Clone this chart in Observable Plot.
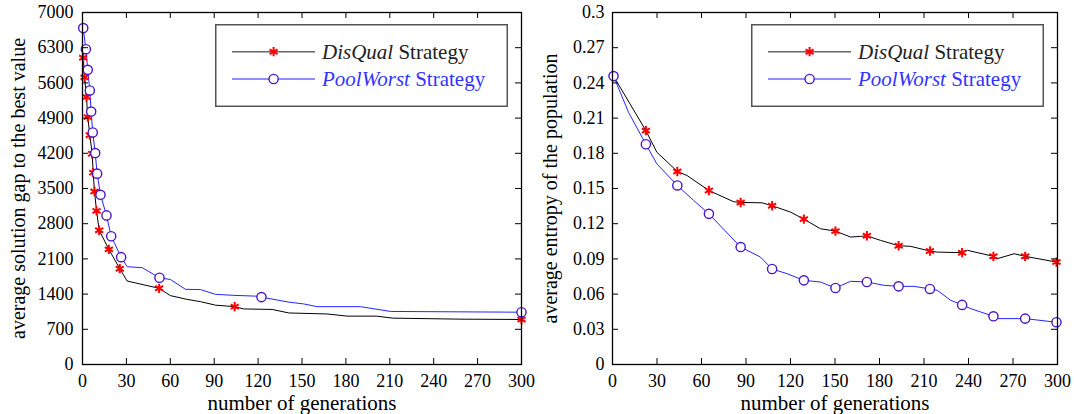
<!DOCTYPE html>
<html>
<head>
<meta charset="utf-8">
<script src="https://cdn.jsdelivr.net/npm/d3@7"></script>
<script src="https://cdn.jsdelivr.net/npm/@observablehq/plot@0.6"></script>
<style>
  body { margin: 0; background: #fff; }
  #wrap { display: flex; width: 1074px; height: 414px; }
  .panel { position: relative; width: 537px; height: 414px; }
  .panel svg { display: block; }
  .panel svg text { font-family: "Liberation Serif", "Times New Roman", Times, "DejaVu Serif", serif; }
</style>
</head>
<body>
<div id="wrap"></div>
<script>
// ---------- tick labels ----------
const generationTicks = [0, 30, 60, 90, 120, 150, 180, 210, 240, 270, 300];
const gapTicks = [0, 700, 1400, 2100, 2800, 3500, 4200, 4900, 5600, 6300, 7000];
const entropyTicks = [0, 0.03, 0.06, 0.09, 0.12, 0.15, 0.18, 0.21, 0.24, 0.27, 0.3];

// ---------- labels ----------
const xLabel = "number of generations";
const gapLabel = "average solution gap to the best value";
const entropyLabel = "average entropy of the population";
const strategyNames = ["DisQual", "PoolWorst"];
const strategySuffix = " Strategy";

// ---------- left panel: solution gap ----------
const gapDisQualGen = [0.5, 1.4, 2.7, 3.6, 5.0, 6.6, 7.3, 8.2, 9.6, 11.4, 18, 25.5, 30.5, 52.4, 60, 71.5, 80.6, 90.9, 104, 110, 129.6, 141, 167, 181, 201, 212, 258, 300];
const gapDisQualVal = [6100, 5710, 5320, 4920, 4560, 4190, 3815, 3440, 3055, 2670, 2290, 1905, 1660, 1515, 1370, 1295, 1250, 1180, 1150, 1105, 1095, 1025, 1005, 962, 962, 922, 902, 895];
const gapDisQualMarkGen = [0.5, 1.4, 2.7, 3.6, 5.0, 6.6, 7.3, 8.2, 9.6, 11.4, 18, 25.5, 52.4, 104, 300];
const gapDisQualMarkVal = [6100, 5710, 5320, 4920, 4560, 4190, 3815, 3440, 3055, 2670, 2290, 1905, 1515, 1150, 895];

const gapPoolGen = [0.5, 2.3, 3.6, 5.0, 5.9, 7.0, 8.7, 10.0, 12.3, 16.4, 19.6, 26.4, 30.5, 40.8, 52.6, 60.1, 70.4, 80.6, 90.9, 103.4, 118, 122.3, 141, 151, 160.4, 190, 210.5, 300];
const gapPoolVal = [6690, 6270, 5860, 5450, 5030, 4615, 4205, 3795, 3375, 2965, 2550, 2135, 1945, 1925, 1725, 1690, 1495, 1490, 1395, 1375, 1360, 1340, 1240, 1205, 1150, 1150, 1055, 1040];
const gapPoolMarkGen = [0.5, 2.3, 3.6, 5.0, 5.9, 7.0, 8.7, 10.0, 12.3, 16.4, 19.6, 26.4, 52.6, 122.3, 300];
const gapPoolMarkVal = [6690, 6270, 5860, 5450, 5030, 4615, 4205, 3795, 3375, 2965, 2550, 2135, 1725, 1340, 1040];

// ---------- right panel: entropy ----------
const entDisQualGen = [0.7, 22.5, 29.9, 43.7, 50.2, 65, 81.7, 86.4, 100.8, 107.6, 120, 129, 140.2, 150.3, 160.5, 167.2, 171.5, 180.7, 192.9, 201, 214, 219, 235.7, 239.3, 256.8, 259.4, 270.8, 278.2, 299.3];
const entDisQualVal = [0.2458, 0.1993, 0.1809, 0.1645, 0.1611, 0.1483, 0.1387, 0.1381, 0.1378, 0.1353, 0.1299, 0.1239, 0.1157, 0.1137, 0.1086, 0.1092, 0.1097, 0.1058, 0.1012, 0.1007, 0.0967, 0.0958, 0.0953, 0.0973, 0.0922, 0.0902, 0.0944, 0.0922, 0.0873];
const entDisQualMarkGen = [0.7, 22.5, 43.7, 65, 86.4, 107.6, 129, 150.3, 171.5, 192.9, 214, 235.7, 256.8, 278.2, 299.3];
const entDisQualMarkVal = [0.2458, 0.1993, 0.1645, 0.1483, 0.1381, 0.1353, 0.1239, 0.1137, 0.1097, 0.1012, 0.0967, 0.0953, 0.0922, 0.0922, 0.0873];

const entPoolGen = [0.7, 10.8, 22.5, 29.9, 43.7, 54.7, 65, 86.4, 99.7, 107.6, 117.7, 129, 140.2, 150.3, 160.5, 171.5, 183, 192.9, 203.2, 214, 219, 228, 235.7, 241.5, 256.8, 259.4, 278.2, 299.3];
const entPoolVal = [0.2458, 0.2149, 0.1877, 0.1710, 0.1526, 0.1398, 0.1284, 0.1001, 0.0916, 0.0814, 0.0774, 0.0717, 0.0703, 0.0652, 0.0709, 0.0703, 0.0675, 0.0666, 0.0666, 0.0644, 0.0632, 0.0547, 0.0508, 0.0476, 0.0411, 0.0391, 0.0391, 0.0360];
const entPoolMarkGen = [0.7, 22.5, 43.7, 65, 86.4, 107.6, 129, 150.3, 171.5, 192.9, 214, 235.7, 256.8, 278.2, 299.3];
const entPoolMarkVal = [0.2458, 0.1877, 0.1526, 0.1284, 0.1001, 0.0814, 0.0717, 0.0652, 0.0703, 0.0666, 0.0644, 0.0508, 0.0411, 0.0391, 0.0360];

// ---------- styling ----------
const FONT = "\"Liberation Serif\", \"Times New Roman\", Times, \"DejaVu Serif\", serif";
const BLACK_LINE = "#000";
const BLUE_LINE = "#2424ff";
const STAR = "#ff0000";
const CIRCLE = "#4a14c8";

const zipRec = (g, v) => g.map((d, i) => ({g: d, v: v[i]}));

function panel(o) {
  const W = 537, H = 414, mt = 12, mb = 50;
  const innerW = W - o.ml - o.mr, innerH = H - mt - mb;
  return Plot.plot({
    width: W, height: H,
    marginLeft: o.ml, marginRight: o.mr, marginTop: mt, marginBottom: mb,
    style: {fontFamily: FONT, fontSize: "18px", color: "#000", background: "#fff", overflow: "visible"},
    x: {domain: [0, 300]},
    y: {domain: o.yDomain},
    marks: [
      Plot.line(o.dis, {x: "g", y: "v", stroke: BLACK_LINE, strokeWidth: 1}),
      Plot.line(o.pool, {x: "g", y: "v", stroke: BLUE_LINE, strokeWidth: 1}),
      Plot.dot(o.disM, {x: "g", y: "v", symbol: "asterisk", r: 4.4, stroke: STAR, strokeWidth: 2}),
      Plot.dot(o.poolM, {x: "g", y: "v", r: 4.6, stroke: CIRCLE, fill: "#fff", strokeWidth: 1.4}),
      Plot.tickX(generationTicks, {x: d => d, insetTop: innerH - 6, stroke: "#000"}),
      Plot.tickX(generationTicks, {x: d => d, insetBottom: innerH - 6, stroke: "#000"}),
      Plot.tickY(o.yTicks, {y: d => d, insetRight: innerW - 6, stroke: "#000"}),
      Plot.tickY(o.yTicks, {y: d => d, insetLeft: innerW - 6, stroke: "#000"}),
      Plot.axisX(generationTicks, {tickSize: 0, tickPadding: 10, label: null, tickFormat: d => String(d), fontSize: 18}),
      Plot.axisY(o.yTicks, {tickSize: 0, tickPadding: o.yPad, label: null, tickFormat: d => String(d), fontSize: 18}),
      Plot.frame({stroke: "#000", strokeWidth: 1.3}),
      Plot.text([xLabel], {frameAnchor: "bottom", dy: 39, text: d => d, fontSize: 21, lineAnchor: "middle", textAnchor: "middle"}),
      Plot.text([o.yLabel], {frameAnchor: "left", textAnchor: "middle", lineAnchor: "middle", rotate: -90, dx: o.yLabelDx, text: d => d, fontSize: 20})
    ]
  });
}

function legend(left) {
  const w = 293, h = 83;
  const svg = d3.create("svg")
    .attr("width", w).attr("height", h)
    .style("position", "absolute").style("left", left + "px").style("top", "24px")
    .style("font-size", "20px");
  svg.append("rect").attr("x", 0.75).attr("y", 0.75).attr("width", w - 1.5).attr("height", h - 1.5)
    .attr("fill", "#fff").attr("stroke", "#555").attr("stroke-width", 1.5);
  const rows = [
    {y: 27.7, line: "#666", text: "#222", name: strategyNames[0], mark: "star"},
    {y: 55, line: "#6a6aff", text: "#3333ff", name: strategyNames[1], mark: "circle"}
  ];
  rows.forEach(r => {
    svg.append("line").attr("x1", 17).attr("x2", 100).attr("y1", r.y).attr("y2", r.y)
      .attr("stroke", r.line).attr("stroke-width", 1.4);
    if (r.mark === "star") {
      svg.append("path").attr("d", d3.symbol(d3.symbolAsterisk, 4.4 * 4.4 * Math.PI)())
        .attr("transform", `translate(58.6,${r.y})`).attr("stroke", STAR).attr("stroke-width", 2).attr("fill", "none");
    } else {
      svg.append("circle").attr("cx", 58.6).attr("cy", r.y).attr("r", 4.6)
        .attr("fill", "#fff").attr("stroke", CIRCLE).attr("stroke-width", 1.4);
    }
    const t = svg.append("text").attr("x", 107).attr("y", r.y).attr("dy", "0.35em").attr("fill", r.text)
      .attr("font-size", 21);
    t.append("tspan").attr("font-style", "italic").text(r.name);
    t.append("tspan").text(strategySuffix);
  });
  return svg.node();
}

const wrap = document.getElementById("wrap");

const p1 = document.createElement("div"); p1.className = "panel";
p1.appendChild(panel({
  ml: 82, mr: 16, yDomain: [0, 7000], yTicks: gapTicks, yPad: 9,
  yLabel: gapLabel, yLabelDx: -64,
  dis: zipRec(gapDisQualGen, gapDisQualVal), disM: zipRec(gapDisQualMarkGen, gapDisQualMarkVal),
  pool: zipRec(gapPoolGen, gapPoolVal), poolM: zipRec(gapPoolMarkGen, gapPoolMarkVal)
}));
p1.appendChild(legend(215));
wrap.appendChild(p1);

const p2 = document.createElement("div"); p2.className = "panel";
p2.appendChild(panel({
  ml: 75, mr: 17, yDomain: [0, 0.3], yTicks: entropyTicks, yPad: 8,
  yLabel: entropyLabel, yLabelDx: -62,
  dis: zipRec(entDisQualGen, entDisQualVal), disM: zipRec(entDisQualMarkGen, entDisQualMarkVal),
  pool: zipRec(entPoolGen, entPoolVal), poolM: zipRec(entPoolMarkGen, entPoolMarkVal)
}));
p2.appendChild(legend(214));
wrap.appendChild(p2);
</script>
</body>
</html>
